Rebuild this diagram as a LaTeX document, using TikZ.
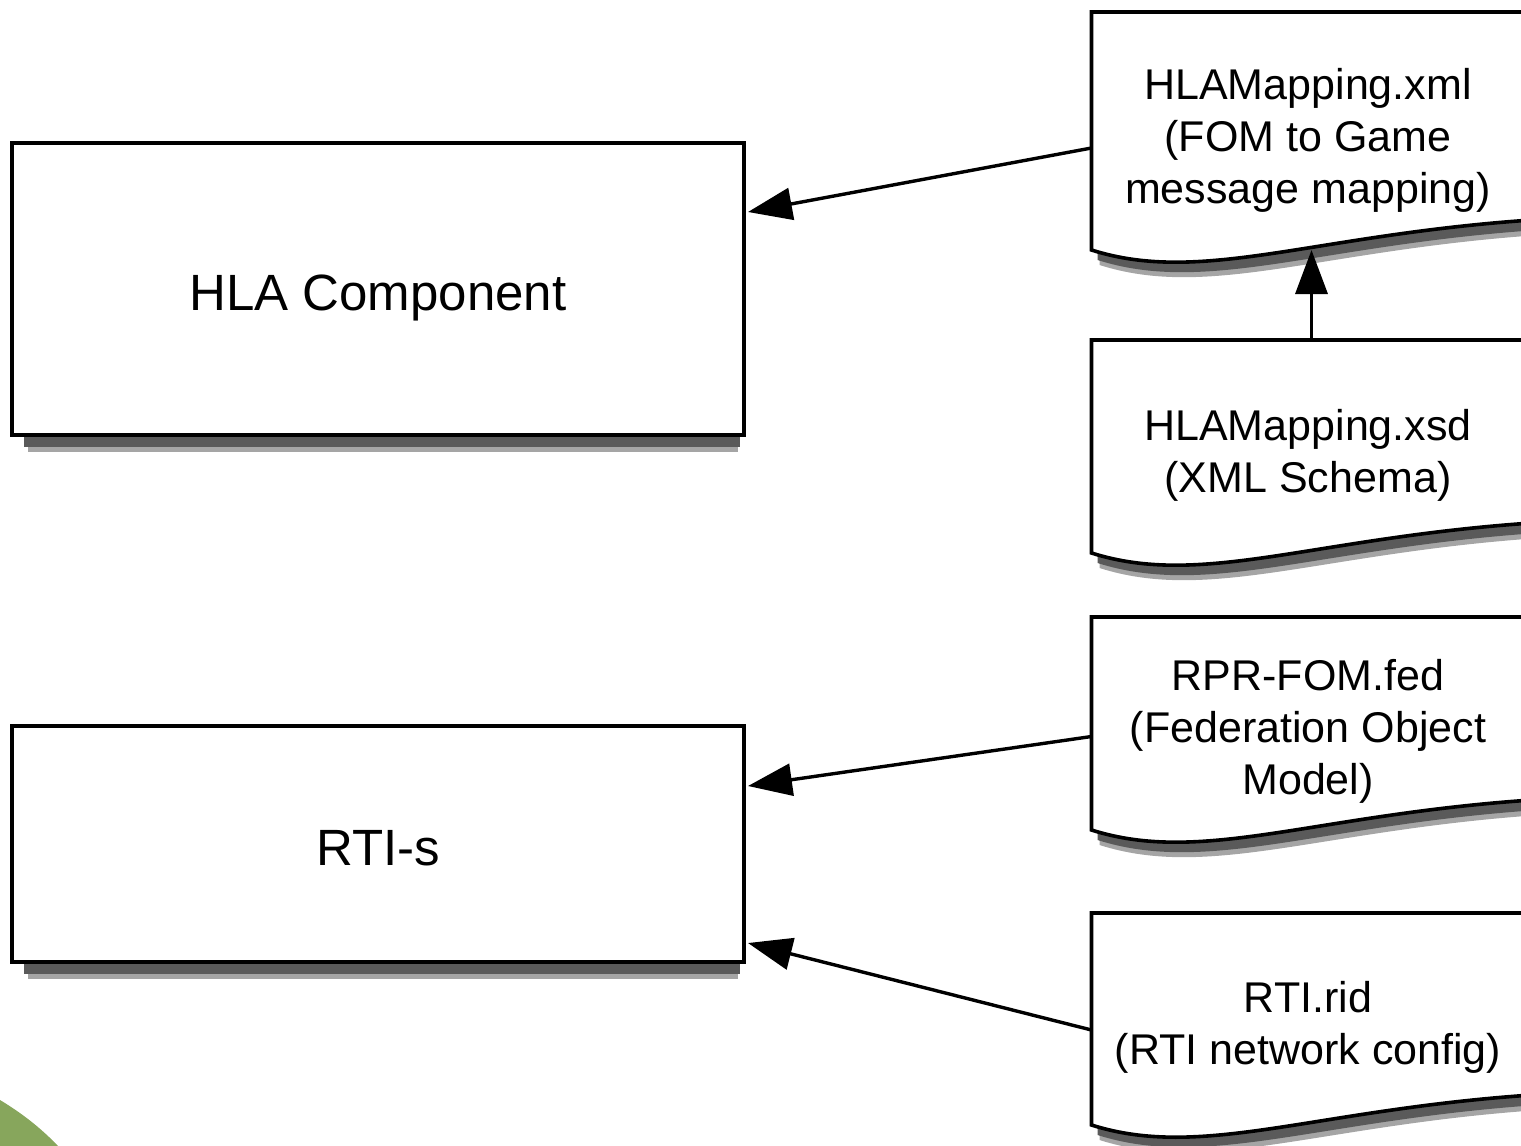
\documentclass[tikz,border=0pt]{standalone}
\usepackage{fontspec}
\setmainfont{Liberation Sans}
\usetikzlibrary{arrows.meta,calc}
\pgfdeclarelayer{background}
\pgfsetlayers{background,main}
\definecolor{leaf}{RGB}{135,166,92}
\definecolor{shade}{RGB}{90,90,90}
\definecolor{shadelight}{RGB}{165,165,165}
\tikzset{
  boxnode/.style={draw, line width=2pt, fill=white, minimum width=366pt,
    text height=21pt, text depth=0pt, inner sep=0pt, outer sep=2pt,
    font=\fontsize{25.5}{30}\selectfont},
  docbody/.style={inner sep=0pt, outer sep=0pt, minimum width=220pt},
  doctext/.style={align=center, inner sep=0pt, font=\fontsize{21.5}{26}\selectfont},
  docline/.style={line width=1.8pt, fill=white},
  shadowfill/.style={fill=shade},
  shadowsoft/.style={fill=shadelight},
  conn/.style={line width=1.7pt, -{Triangle[length=22pt,width=16pt]}},
}
\newcommand{\docshape}[1]{%
  \begin{pgfonlayer}{background}
  \fill[shadowsoft] ($(#1.north west)+(8,15)$) -- ($(#1.south west)+(8,15)$)
    .. controls ($(#1.south west)+(118,50)$) and ($(#1.south west)+(228,0)$) ..
    ($(#1.south east)+(8,-15)$) -- ($(#1.north east)+(8,15)$) -- cycle;
  \fill[shadowfill] ($(#1.north west)+(6,10)$) -- ($(#1.south west)+(6,10)$)
    .. controls ($(#1.south west)+(116,45)$) and ($(#1.south west)+(226,-5)$) ..
    ($(#1.south east)+(6,-20)$) -- ($(#1.north east)+(6,10)$) -- cycle;
  \end{pgfonlayer}
  \draw[docline] (#1.north east) -- (#1.north west) -- (#1.south west)
    .. controls ($(#1.south west)+(110,35)$) and ($(#1.south west)+(220,-15)$) ..
    ($(#1.south east)+(0,-30)$) -- cycle;
}
\newcommand{\boxshadow}[1]{%
  \begin{pgfonlayer}{background}
  \fill[shadowsoft] ($(#1.south west)+(20,-4)$) rectangle ($(#1.south east)+(-10,13)$);
  \fill[shadowfill] ($(#1.south west)+(16,-4)$) rectangle ($(#1.south east)+(-8,8)$);
  \end{pgfonlayer}
}
\begin{document}
\begin{tikzpicture}[x=0.5pt,y=-0.5pt]
\useasboundingbox (0,0) rectangle (1521,1146);
\fill[leaf] (0,1100) .. controls (20,1112) and (40,1127) .. (58,1146) -- (0,1146) -- cycle;

% boxes
\node[boxnode, minimum height=146pt] (hla) at (378,289) {HLA Component};
\boxshadow{hla}
\node[boxnode, minimum height=118pt] (rti) at (378,844) {RTI-s};
\boxshadow{rti}

% documents
\node[docbody, minimum height=119pt] (d1) at (1311.5,131) {};
\docshape{d1}
\node[doctext] (t1) at (1308,140) {HLAMapping.xml\\(FOM to Game\\message mapping)};

\node[docbody, minimum height=106.5pt] (d2) at (1311.5,446.5) {};
\docshape{d2}
\node[doctext] (t2) at (1308,455) {HLAMapping.xsd\\(XML Schema)};

\node[docbody, minimum height=106.5pt] (d3) at (1311.5,723.5) {};
\docshape{d3}
\node[doctext] (t3) at (1308,731) {RPR-FOM.fed\\(Federation Object\\Model)};

\node[docbody, minimum height=106pt] (d4) at (1311.5,1019) {};
\docshape{d4}
\node[doctext] (t4) at (1308,1027) {RTI.rid\\(RTI network config)};

% connectors
\draw[conn] ($(d1.west)+(0,17)$) -- ($(hla.east)+(0,-77)$);
\draw[conn] (d2.north) -- (d1.south);
\draw[conn] ($(d3.west)+(0,13)$) -- ($(rti.east)+(0,-58)$);
\draw[conn] ($(d4.west)+(0,11)$) -- ($(rti.east)+(0,99)$);
\end{tikzpicture}
\end{document}
